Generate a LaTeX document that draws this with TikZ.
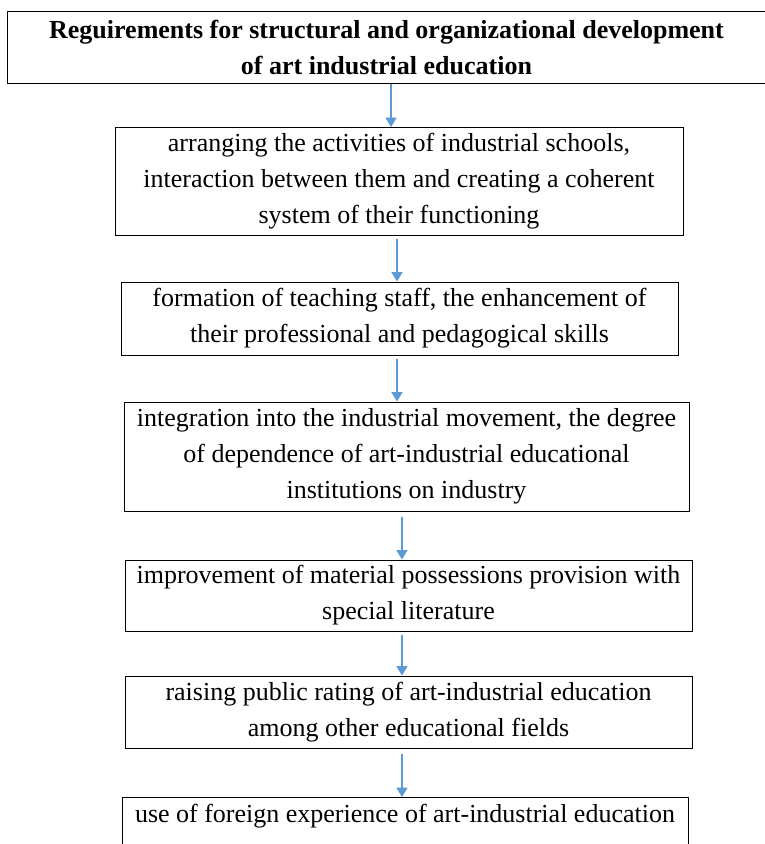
\documentclass[tikz,border=0pt]{standalone}
\usepackage{fontspec}
\setmainfont{Liberation Serif}
\definecolor{arrowblue}{RGB}{91,155,213}
\usetikzlibrary{arrows.meta, positioning, calc}
\tikzstyle{stepbox} = [draw, line width=0.75pt, align=center, inner sep=0pt]
\tikzstyle{flow} = [arrowblue, line width=1pt, -{Triangle[width=8.25pt,length=7pt]}]

\begin{document}
\begin{tikzpicture}[x=0.75pt, y=-0.75pt, font=\fontsize{19.5pt}{27pt}\selectfont]
  \useasboundingbox (0,0) rectangle (765,844);
  \node (head) [stepbox,minimum width=569pt,minimum height=54pt,font=\fontsize{19.5pt}{27pt}\selectfont\bfseries] at (386.5,47) {Reguirements for structural and organizational development\\of art industrial education};
  \node (b1) [stepbox,minimum width=426pt,minimum height=81pt] at (399,181.5) {arranging the activities of industrial schools,\\interaction between them and creating a coherent\\system of their functioning};
  \node (b2) [stepbox,minimum width=417.75pt,minimum height=54.75pt] at (399.5,318.5) {formation of teaching staff, the enhancement of\\their professional and pedagogical skills};
  \node (b3) [stepbox,minimum width=423.75pt,minimum height=81.75pt] at (406.5,456.5) {integration into the industrial movement, the degree\\of dependence of art-industrial educational\\institutions on industry};
  \node (b4) [stepbox,minimum width=425.25pt,minimum height=53.25pt] at (408.5,595.5) {improvement of material possessions provision with\\special literature};
  \node (b5) [stepbox,minimum width=425.25pt,minimum height=54pt] at (408.5,712) {raising public rating of art-industrial education\\among other educational fields};
  % last box runs past the bottom edge
  \node (b6) [stepbox,minimum width=424.5pt,anchor=north,inner ysep=5.5pt,text height=13pt,text depth=40pt] at (405,797) {use of foreign experience of art-industrial education};
  % arrows between the steps
  \draw [flow] ([xshift=3.4pt]head.south) -- ([xshift=3.4pt]head.south |- b1.north);
  \draw [flow,shorten <=2.25pt] ([xshift=-1.5pt]b1.south) -- ([xshift=-1.5pt]b1.south |- b2.north);
  \draw [flow,shorten <=2.25pt] ([xshift=-1.9pt]b2.south) -- ([xshift=-1.9pt]b2.south |- b3.north);
  \draw [flow,shorten <=3.75pt] ([xshift=-3.4pt]b3.south) -- ([xshift=-3.4pt]b3.south |- b4.north);
  \draw [flow,shorten <=2.25pt] ([xshift=-4.9pt]b4.south) -- ([xshift=-4.9pt]b4.south |- b5.north);
  \draw [flow,shorten <=3.75pt] ([xshift=-4.9pt]b5.south) -- ([xshift=-4.9pt]b5.south |- b6.north);
\end{tikzpicture}
\end{document}
